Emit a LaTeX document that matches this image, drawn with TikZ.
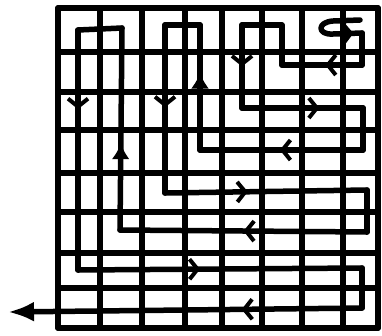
\documentclass[tikz,border=0pt]{standalone}
\usetikzlibrary{arrows.meta, decorations.markings}

\tikzset{
  ink/.style={line width=5.5pt, line cap=round, line join=round},
  gridline/.style={ink},
  route/.style={ink},
  flow/.style={postaction={decorate}, decoration={markings,
      mark=at position #1 with {\arrow{Straight Barb[length=8pt, width=20pt, line width=4pt]}}}},
  fatflow/.style={postaction={decorate}, decoration={markings,
      mark=at position #1 with {\arrow{Latex[length=16pt, width=18pt]}}}},
}

\begin{document}
\begin{tikzpicture}[x=1pt, y=-1pt]
\useasboundingbox (0,0) rectangle (382,335);

% the square grid
\foreach \gx in {58,100,142,185,222,262,302,343,378}
  \draw[gridline] (\gx,8) -- (\gx,328);
\foreach \gy in {8,52,92,130,173,212,253,288,328}
  \draw[gridline] (58,\gy) -- (378,\gy);

% the route, starting with the curl at top right
\draw[route, flow=0.9] (360,20) -- (333,21) .. controls (317,22) and (317,35) .. (333,34) -- (362,33);
\draw[route] (362,33) -- (362,65);
\draw[route, flow=0.46] (362,65) -- (282,65);
\draw[route] (282,65) -- (282,25) -- (242,25);
\draw[route, flow=0.5] (242,25) -- (242,108);
\draw[route, flow=0.64] (242,108) -- (363,108);
\draw[route] (363,108) -- (363,150);
\draw[route, flow=0.51] (363,150) -- (200,150);
\draw[route, fatflow=0.62] (200,150) -- (200,25);
\draw[route] (200,25) -- (165,25);
\draw[route, flow=0.49] (165,25) -- (165,193);
\draw[route, flow=0.41] (165,193) -- (367,190);
\draw[route] (367,190) -- (367,232);
\draw[route, flow=0.5] (367,232) -- (120,230);
\draw[route, fatflow=0.43] (120,230) -- (122,28);
\draw[route] (122,28) -- (78,30);
\draw[route, flow=0.33] (78,30) -- (78,270);
\draw[route, flow=0.43] (78,270) -- (362,268);
\draw[route] (362,268) -- (362,308);

% way out to the left
\draw[route, flow=0.34, -{Latex[length=26pt, width=20pt]}] (362,308) -- (8,312);

\end{tikzpicture}
\end{document}
